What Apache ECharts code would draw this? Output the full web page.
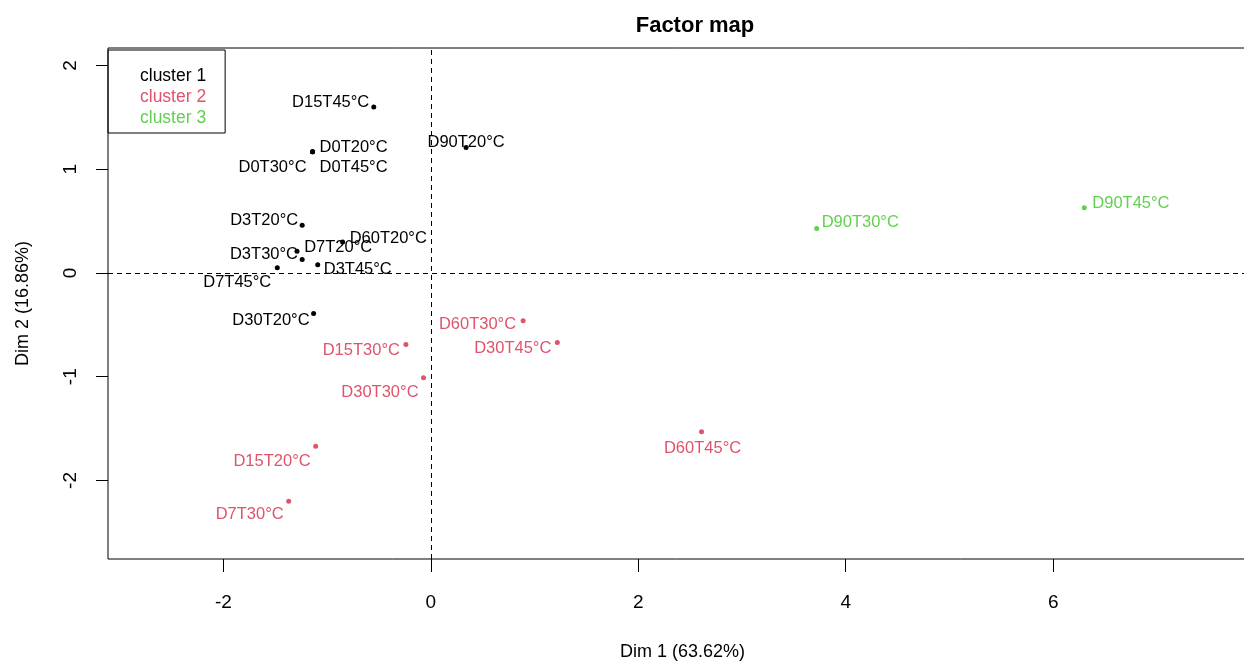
<!DOCTYPE html>
<html>
<head>
<meta charset="utf-8">
<script src="https://cdn.jsdelivr.net/npm/echarts@6/dist/echarts.min.js"></script>
<style>
html,body{margin:0;padding:0;background:#fff;}
#chart{width:1244px;height:662px;}
</style>
</head>
<body>
<div id="chart"></div>
<script>
// ---- data ----
var names = ["D15T45°C","D0T20°C","D0T30°C","D0T45°C","D90T20°C","D3T20°C","D3T30°C","D7T20°C","D60T20°C","D3T45°C","D7T45°C","D30T20°C",
             "D60T30°C","D30T45°C","D15T30°C","D30T30°C","D15T20°C","D7T30°C","D60T45°C",
             "D90T30°C","D90T45°C"];
var dim1 = [-0.55,-1.14,-1.14,-1.14,0.34,-1.24,-1.29,-1.24,-0.85,-1.09,-1.48,-1.13,
            0.89,1.22,-0.24,-0.07,-1.11,-1.37,2.61,
            3.72,6.30];
var dim2 = [1.60,1.17,1.17,1.17,1.21,0.46,0.21,0.13,0.30,0.08,0.05,-0.39,
            -0.46,-0.67,-0.69,-1.01,-1.67,-2.20,-1.53,
            0.43,0.63];
var cluster = [1,1,1,1,1,1,1,1,1,1,1,1,
               2,2,2,2,2,2,2,
               3,3];
var clusterNames = ["cluster 1","cluster 2","cluster 3"];
var xTicks = [-2,0,2,4,6];
var yTicks = [-2,-1,0,1,2];

// ---- styling / layout ----
var colors = ["#000000","#DF536B","#61D04F"];
var FONT = "Liberation Sans, Arial, Helvetica, sans-serif";
var LABEL_DY = 1.5;
// label placement: [position, dx, dy]
var labelPlacement = {
  "D15T45°C":["left",0,-6], "D0T20°C":["right",2.5,-6], "D0T30°C":["left",-1.5,14], "D0T45°C":["right",2.5,14],
  "D90T20°C":["inside",0,-7], "D3T20°C":["left",0.5,-6], "D3T30°C":["left",5.5,2], "D7T20°C":["right",-2.5,-14],
  "D60T20°C":["right",2.5,-5], "D3T45°C":["right",1.5,3], "D7T45°C":["left",-1.5,13], "D30T20°C":["left",0.5,5],
  "D60T30°C":["left",-2.5,2], "D30T45°C":["left",-1.5,4], "D15T30°C":["left",-1.5,4], "D30T30°C":["left",-0.5,13],
  "D15T20°C":["left",-0.5,14], "D7T30°C":["left",-0.5,12], "D60T45°C":["inside",1,15],
  "D90T30°C":["right",0.5,-7], "D90T45°C":["right",3.5,-6]
};

var series = clusterNames.map(function(cn, ci){
  var data = [];
  for (var i=0;i<names.length;i++){
    if (cluster[i] !== ci+1) continue;
    var lp = labelPlacement[names[i]];
    data.push({
      name: names[i],
      value: [dim1[i], dim2[i]],
      label: {position: lp[0], offset: [lp[1], lp[2] + LABEL_DY]}
    });
  }
  var s = {
    name: cn,
    type: 'scatter',
    symbol: 'circle',
    symbolSize: 5,
    itemStyle: {color: colors[ci], opacity: 1},
    label: {
      show: true, distance: 2, formatter: '{b}',
      color: colors[ci], fontFamily: FONT, fontSize: 16.5
    },
    emphasis: {disabled: true},
    data: data,
    z: 3
  };
  if (ci === 0) {
    s.markLine = {
      silent: true, symbol: 'none', animation: false,
      label: {show: false},
      lineStyle: {color: '#000', type: [5,4], width: 1, opacity: 1},
      data: [{xAxis: 0}, {yAxis: 0}]
    };
  }
  return s;
});

var chart = echarts.init(document.getElementById('chart'), null, {renderer: 'canvas'});
chart.setOption({
  animation: false,
  backgroundColor: '#fff',
  title: {
    text: 'Factor map',
    left: 690, top: 10, textAlign: 'center',
    textStyle: {fontFamily: FONT, fontSize: 22, fontWeight: 'bold', color: '#000'}
  },
  legend: {
    orient: 'vertical',
    left: 108, top: 50,
    icon: 'none',
    itemWidth: 0, itemHeight: 10, itemGap: 0,
    padding: [16, 19, 4, 27],
    borderColor: '#000', borderWidth: 1, borderRadius: 0,
    selectedMode: false,
    textStyle: {fontFamily: FONT, fontSize: 17.5, lineHeight: 21},
    data: clusterNames.map(function(cn, ci){ return {name: cn, textStyle: {color: colors[ci]}}; })
  },
  grid: {
    left: 108, top: 48, width: 1149, height: 511,
    outerBoundsMode: 'none',
    show: true, borderColor: '#000', borderWidth: 1, containLabel: false
  },
  xAxis: {
    type: 'value', min: -3.112, max: 7.965,
    name: 'Dim 1 (63.62%)', nameLocation: 'middle', nameGap: 84,
    nameTextStyle: {fontFamily: FONT, fontSize: 18, color: '#000'},
    axisLine: {show: false, onZero: false},
    axisTick: {show: true, length: 13, customValues: xTicks, lineStyle: {color: '#000'}},
    axisLabel: {show: true, customValues: xTicks, margin: 34, fontFamily: FONT, fontSize: 19, color: '#000'},
    splitLine: {show: false}
  },
  yAxis: {
    type: 'value', min: -2.757, max: 2.169,
    name: 'Dim 2 (16.86%)', nameLocation: 'middle', nameGap: 76,
    nameTextStyle: {fontFamily: FONT, fontSize: 18, color: '#000'},
    axisLine: {show: false, onZero: false},
    axisTick: {show: true, length: 12, customValues: yTicks, lineStyle: {color: '#000'}},
    axisLabel: {show: true, customValues: yTicks, rotate: 90, margin: 28, fontFamily: FONT, fontSize: 19, color: '#000'},
    splitLine: {show: false}
  },
  series: series
});
</script>
</body>
</html>
